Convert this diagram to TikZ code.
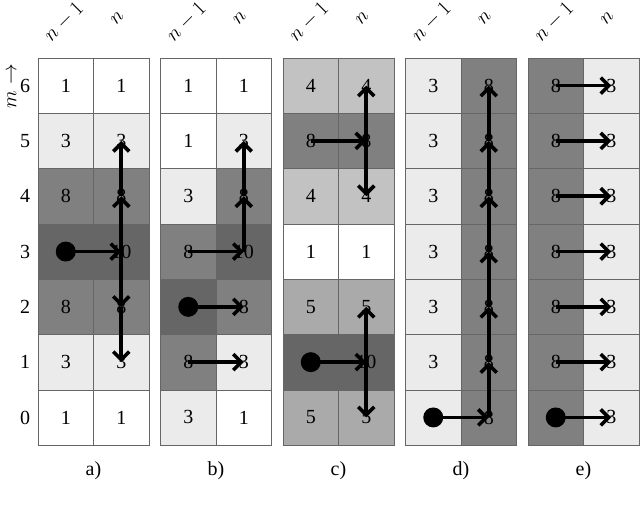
\documentclass[tikz,border=0pt]{standalone}
\usepackage{fontspec}
\setmainfont{Liberation Serif}
\usetikzlibrary{arrows.meta}
\definecolor{cW}{HTML}{FFFFFF}
\definecolor{cL}{HTML}{EBEBEB}
\definecolor{cC}{HTML}{C2C2C2}
\definecolor{cF}{HTML}{AAAAAA}
\definecolor{cG}{HTML}{808080}
\definecolor{cD}{HTML}{666666}
\tikzset{
  cell/.style={draw=black!60, line width=0.6pt, minimum width=55.5pt, minimum height=55.3pt, inner sep=0pt, anchor=center, font=\fontsize{20}{20}\selectfont},
  arr/.style={line width=3.6pt, -{Straight Barb[length=8pt,width=16pt]}},
  dotn/.style={circle, fill=black, minimum size=20pt, inner sep=0pt},
  lab/.style={font=\fontsize{20}{20}\selectfont}
}
\begin{document}
\begin{tikzpicture}[x=1pt,y=-1pt]
\useasboundingbox (0,0) rectangle (640,513);
\def\cw{55.5}\def\ch{55.3}
\newcommand{\panel}[4]{%
  \foreach [count=\r from 0] \v/\c in {#3} {
    \pgfmathsetmacro{\yy}{58+\ch*\r+\ch/2}
    \pgfmathtruncatemacro{\m}{6-\r}
    \node[cell, fill=\c] (#1a\m) at (#2+\cw/2,\yy) {\v};
  }
  \foreach [count=\r from 0] \v/\c in {#4} {
    \pgfmathsetmacro{\yy}{58+\ch*\r+\ch/2}
    \pgfmathtruncatemacro{\m}{6-\r}
    \node[cell, fill=\c] (#1b\m) at (#2+\cw*1.5,\yy) {\v};
  }
  \node[lab, rotate=45] at (#2+\cw/2-2,22) {$n-1$};
  \node[lab, rotate=45] at (#2+\cw*1.5-4,18) {$n$};
}
\panel{A}{38}{1/cW,3/cL,8/cG,10/cD,8/cG,3/cL,1/cW}{1/cW,3/cL,8/cG,10/cD,8/cG,3/cL,1/cW}
\panel{B}{160.5}{1/cW,1/cW,3/cL,8/cG,10/cD,8/cG,3/cL}{1/cW,3/cL,8/cG,10/cD,8/cG,3/cL,1/cW}
\panel{C}{283}{4/cC,8/cG,4/cC,1/cW,5/cF,10/cD,5/cF}{4/cC,8/cG,4/cC,1/cW,5/cF,10/cD,5/cF}
\panel{D}{405.5}{3/cL,3/cL,3/cL,3/cL,3/cL,3/cL,3/cL}{8/cG,8/cG,8/cG,8/cG,8/cG,8/cG,8/cG}
\panel{E}{528}{8/cG,8/cG,8/cG,8/cG,8/cG,8/cG,8/cG}{3/cL,3/cL,3/cL,3/cL,3/cL,3/cL,3/cL}
\foreach \m in {0,...,6} \node[lab] at (25,{58+\ch*(6-\m)+\ch/2}) {\m};
\node[lab, rotate=90] at (12,86) {$m\rightarrow$};
\foreach \p/\x in {a)/93.5, b)/216, c)/338.5, d)/461, e)/583.5} \node[lab] at (\x,471) {\p};
% a
\node[dotn] at (Aa3.center) {};
\draw[arr] (Aa3.center) -- (Ab3.center);
\draw[arr] (Ab3.center) -- (Ab4.center);
\draw[arr] (Ab4.center) -- (Ab5.center);
\draw[arr] (Ab3.center) -- (Ab2.center);
\draw[arr] (Ab2.center) -- (Ab1.center);
% b
\draw[arr] (Ba3.center) -- (Bb3.center);
\draw[arr] (Bb3.center) -- (Bb4.center);
\draw[arr] (Bb4.center) -- (Bb5.center);
\node[dotn] at (Ba2.center) {};
\draw[arr] (Ba2.center) -- (Bb2.center);
\draw[arr] (Ba1.center) -- (Bb1.center);
% c
\draw[arr] (Ca5.center) -- (Cb5.center);
\draw[arr] (Cb5.center) -- (Cb6.center);
\draw[arr] (Cb5.center) -- (Cb4.center);
\node[dotn] at (Ca1.center) {};
\draw[arr] (Ca1.center) -- (Cb1.center);
\draw[arr] (Cb1.center) -- (Cb2.center);
\draw[arr] (Cb1.center) -- (Cb0.center);
% d
\node[dotn] at (Da0.center) {};
\draw[arr] (Da0.center) -- (Db0.center);
\foreach \i [evaluate=\i as \j using int(\i+1)] in {0,...,5} \draw[arr] (Db\i.center) -- (Db\j.center);
% e
\node[dotn] at (Ea0.center) {};
\foreach \i in {0,...,6} \draw[arr] (Ea\i.center) -- (Eb\i.center);
\end{tikzpicture}
\end{document}
